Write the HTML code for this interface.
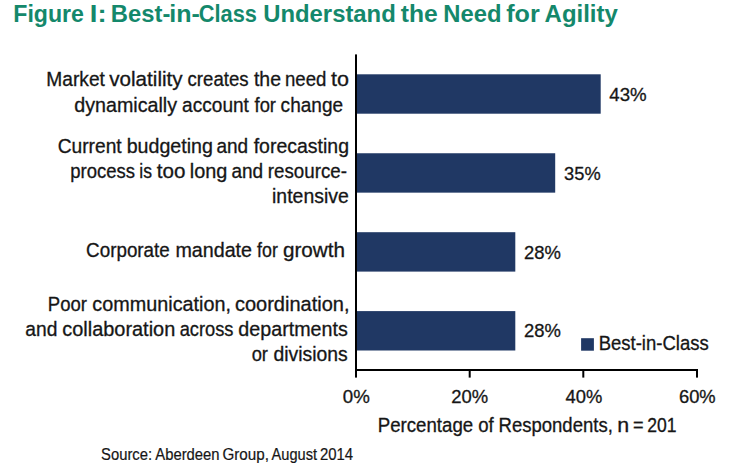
<!DOCTYPE html>
<html>
<head>
<meta charset="utf-8">
<title>Figure I: Best-in-Class Understand the Need for Agility</title>
<style>
html,body{margin:0;padding:0;background:#fff;}
body{width:733px;height:468px;overflow:hidden;font-family:"Liberation Sans",sans-serif;}
svg{display:block;}
svg text{font-family:"Liberation Sans",sans-serif;}
</style>
</head>
<body>
<svg width="733" height="468" viewBox="0 0 733 468">
<rect x="0" y="0" width="733" height="468" fill="#ffffff"/>
<rect x="356.0" y="74.3" width="244.7" height="39.4" fill="#203864"/>
<rect x="356.0" y="153.25" width="199.2" height="39.4" fill="#203864"/>
<rect x="356.0" y="232.2" width="159.3" height="39.4" fill="#203864"/>
<rect x="356.0" y="311.1" width="159.3" height="39.4" fill="#203864"/>
<rect x="355" y="54.4" width="2" height="316.6" fill="#000"/>
<rect x="355" y="369" width="343" height="2" fill="#000"/>
<rect x="355.0" y="370" width="2" height="7.6" fill="#000"/>
<rect x="468.7" y="370" width="2" height="7.6" fill="#000"/>
<rect x="582.3" y="370" width="2" height="7.6" fill="#000"/>
<rect x="696.0" y="370" width="2" height="7.6" fill="#000"/>
<rect x="581.1" y="338.2" width="12.8" height="12.5" fill="#203864"/>
<text id="tw0" x="13.25" y="21.6" font-size="23.6" font-weight="bold" fill="#14886B" textLength="70.69" lengthAdjust="spacingAndGlyphs">Figure</text>
<text id="tw1" x="89.89" y="21.6" font-size="23.6" font-weight="bold" fill="#14886B" textLength="16.72" lengthAdjust="spacingAndGlyphs">I:</text>
<text id="tw2" x="110.82" y="21.6" font-size="23.6" font-weight="bold" fill="#14886B" textLength="59.51" lengthAdjust="spacingAndGlyphs">Best-</text>
<text id="tw3" x="169.22" y="21.6" font-size="23.6" font-weight="bold" fill="#14886B" textLength="30.61" lengthAdjust="spacingAndGlyphs">in-</text>
<text id="tw4" x="198.74" y="21.6" font-size="23.6" font-weight="bold" fill="#14886B" textLength="58.26" lengthAdjust="spacingAndGlyphs">Class</text>
<text id="tw5" x="263.20" y="21.6" font-size="23.6" font-weight="bold" fill="#14886B" textLength="132.58" lengthAdjust="spacingAndGlyphs">Understand</text>
<text id="tw6" x="400.71" y="21.6" font-size="23.6" font-weight="bold" fill="#14886B" textLength="36.99" lengthAdjust="spacingAndGlyphs">the</text>
<text id="tw7" x="443.35" y="21.6" font-size="23.6" font-weight="bold" fill="#14886B" textLength="58.20" lengthAdjust="spacingAndGlyphs">Need</text>
<text id="tw8" x="506.22" y="21.6" font-size="23.6" font-weight="bold" fill="#14886B" textLength="33.51" lengthAdjust="spacingAndGlyphs">for</text>
<text id="tw9" x="544.58" y="21.6" font-size="23.6" font-weight="bold" fill="#14886B" textLength="73.25" lengthAdjust="spacingAndGlyphs">Agility</text>
<text id="l1aw0" x="46.34" y="86.0" font-size="19.3" font-weight="normal" fill="#161616" stroke="#161616" stroke-width="0.3" textLength="58.58" lengthAdjust="spacingAndGlyphs">Market</text>
<text id="l1aw1" x="109.27" y="86.0" font-size="19.3" font-weight="normal" fill="#161616" stroke="#161616" stroke-width="0.3" textLength="73.31" lengthAdjust="spacingAndGlyphs">volatility</text>
<text id="l1aw2" x="187.55" y="86.0" font-size="19.3" font-weight="normal" fill="#161616" stroke="#161616" stroke-width="0.3" textLength="61.03" lengthAdjust="spacingAndGlyphs">creates</text>
<text id="l1aw3" x="253.96" y="86.0" font-size="19.3" font-weight="normal" fill="#161616" stroke="#161616" stroke-width="0.3" textLength="27.07" lengthAdjust="spacingAndGlyphs">the</text>
<text id="l1aw4" x="285.00" y="86.0" font-size="19.3" font-weight="normal" fill="#161616" stroke="#161616" stroke-width="0.3" textLength="41.42" lengthAdjust="spacingAndGlyphs">need</text>
<text id="l1aw5" x="330.93" y="86.0" font-size="19.3" font-weight="normal" fill="#161616" stroke="#161616" stroke-width="0.3" textLength="17.98" lengthAdjust="spacingAndGlyphs">to</text>
<text id="l1bw0" x="74.23" y="112.0" font-size="19.3" font-weight="normal" fill="#161616" stroke="#161616" stroke-width="0.3" textLength="102.81" lengthAdjust="spacingAndGlyphs">dynamically</text>
<text id="l1bw1" x="182.11" y="112.0" font-size="19.3" font-weight="normal" fill="#161616" stroke="#161616" stroke-width="0.3" textLength="66.80" lengthAdjust="spacingAndGlyphs">account</text>
<text id="l1bw2" x="254.54" y="112.0" font-size="19.3" font-weight="normal" fill="#161616" stroke="#161616" stroke-width="0.3" textLength="21.47" lengthAdjust="spacingAndGlyphs">for</text>
<text id="l1bw3" x="280.61" y="112.0" font-size="19.3" font-weight="normal" fill="#161616" stroke="#161616" stroke-width="0.3" textLength="62.48" lengthAdjust="spacingAndGlyphs">change</text>
<text id="l2aw0" x="57.68" y="153.0" font-size="19.3" font-weight="normal" fill="#161616" stroke="#161616" stroke-width="0.3" textLength="63.97" lengthAdjust="spacingAndGlyphs">Current</text>
<text id="l2aw1" x="126.67" y="153.0" font-size="19.3" font-weight="normal" fill="#161616" stroke="#161616" stroke-width="0.3" textLength="86.26" lengthAdjust="spacingAndGlyphs">budgeting</text>
<text id="l2aw2" x="216.47" y="153.0" font-size="19.3" font-weight="normal" fill="#161616" stroke="#161616" stroke-width="0.3" textLength="31.71" lengthAdjust="spacingAndGlyphs">and</text>
<text id="l2aw3" x="253.71" y="153.0" font-size="19.3" font-weight="normal" fill="#161616" stroke="#161616" stroke-width="0.3" textLength="95.27" lengthAdjust="spacingAndGlyphs">forecasting</text>
<text id="l2bw0" x="70.29" y="178.0" font-size="19.3" font-weight="normal" fill="#161616" stroke="#161616" stroke-width="0.3" textLength="64.81" lengthAdjust="spacingAndGlyphs">process</text>
<text id="l2bw1" x="139.31" y="178.0" font-size="19.3" font-weight="normal" fill="#161616" stroke="#161616" stroke-width="0.3" textLength="12.72" lengthAdjust="spacingAndGlyphs">is</text>
<text id="l2bw2" x="156.84" y="178.0" font-size="19.3" font-weight="normal" fill="#161616" stroke="#161616" stroke-width="0.3" textLength="28.66" lengthAdjust="spacingAndGlyphs">too</text>
<text id="l2bw3" x="189.78" y="178.0" font-size="19.3" font-weight="normal" fill="#161616" stroke="#161616" stroke-width="0.3" textLength="37.60" lengthAdjust="spacingAndGlyphs">long</text>
<text id="l2bw4" x="231.47" y="178.0" font-size="19.3" font-weight="normal" fill="#161616" stroke="#161616" stroke-width="0.3" textLength="31.71" lengthAdjust="spacingAndGlyphs">and</text>
<text id="l2bw5" x="267.82" y="178.0" font-size="19.3" font-weight="normal" fill="#161616" stroke="#161616" stroke-width="0.3" textLength="79.12" lengthAdjust="spacingAndGlyphs">resource-</text>
<text id="l2cw0" x="272.06" y="203.0" font-size="19.3" font-weight="normal" fill="#161616" stroke="#161616" stroke-width="0.3" textLength="76.81" lengthAdjust="spacingAndGlyphs">intensive</text>
<text id="l3w0" x="86.11" y="257.0" font-size="19.3" font-weight="normal" fill="#161616" stroke="#161616" stroke-width="0.3" textLength="83.67" lengthAdjust="spacingAndGlyphs">Corporate</text>
<text id="l3w1" x="175.41" y="257.0" font-size="19.3" font-weight="normal" fill="#161616" stroke="#161616" stroke-width="0.3" textLength="76.64" lengthAdjust="spacingAndGlyphs">mandate</text>
<text id="l3w2" x="257.02" y="257.0" font-size="19.3" font-weight="normal" fill="#161616" stroke="#161616" stroke-width="0.3" textLength="20.81" lengthAdjust="spacingAndGlyphs">for</text>
<text id="l3w3" x="282.90" y="257.0" font-size="19.3" font-weight="normal" fill="#161616" stroke="#161616" stroke-width="0.3" textLength="62.12" lengthAdjust="spacingAndGlyphs">growth</text>
<text id="l4aw0" x="47.80" y="311.0" font-size="19.3" font-weight="normal" fill="#161616" stroke="#161616" stroke-width="0.3" textLength="39.17" lengthAdjust="spacingAndGlyphs">Poor</text>
<text id="l4aw1" x="92.33" y="311.0" font-size="19.3" font-weight="normal" fill="#161616" stroke="#161616" stroke-width="0.3" textLength="138.63" lengthAdjust="spacingAndGlyphs">communication,</text>
<text id="l4aw2" x="234.93" y="311.0" font-size="19.3" font-weight="normal" fill="#161616" stroke="#161616" stroke-width="0.3" textLength="114.61" lengthAdjust="spacingAndGlyphs">coordination,</text>
<text id="l4bw0" x="25.34" y="336.0" font-size="19.3" font-weight="normal" fill="#161616" stroke="#161616" stroke-width="0.3" textLength="32.08" lengthAdjust="spacingAndGlyphs">and</text>
<text id="l4bw1" x="62.23" y="336.0" font-size="19.3" font-weight="normal" fill="#161616" stroke="#161616" stroke-width="0.3" textLength="113.05" lengthAdjust="spacingAndGlyphs">collaboration</text>
<text id="l4bw2" x="179.63" y="336.0" font-size="19.3" font-weight="normal" fill="#161616" stroke="#161616" stroke-width="0.3" textLength="53.85" lengthAdjust="spacingAndGlyphs">across</text>
<text id="l4bw3" x="238.39" y="336.0" font-size="19.3" font-weight="normal" fill="#161616" stroke="#161616" stroke-width="0.3" textLength="109.43" lengthAdjust="spacingAndGlyphs">departments</text>
<text id="l4cw0" x="251.63" y="361.0" font-size="19.3" font-weight="normal" fill="#161616" stroke="#161616" stroke-width="0.3" textLength="16.30" lengthAdjust="spacingAndGlyphs">or</text>
<text id="l4cw1" x="273.49" y="361.0" font-size="19.3" font-weight="normal" fill="#161616" stroke="#161616" stroke-width="0.3" textLength="74.24" lengthAdjust="spacingAndGlyphs">divisions</text>
<text id="v1" x="609.32" y="101.4" font-size="18.1" font-weight="normal" fill="#161616" stroke="#161616" stroke-width="0.3" textLength="37.39" lengthAdjust="spacingAndGlyphs">43%</text>
<text id="v2" x="564.12" y="180.1" font-size="18.1" font-weight="normal" fill="#161616" stroke="#161616" stroke-width="0.3" textLength="36.57" lengthAdjust="spacingAndGlyphs">35%</text>
<text id="v3" x="524.12" y="258.8" font-size="18.1" font-weight="normal" fill="#161616" stroke="#161616" stroke-width="0.3" textLength="36.89" lengthAdjust="spacingAndGlyphs">28%</text>
<text id="v4" x="524.12" y="337.0" font-size="18.1" font-weight="normal" fill="#161616" stroke="#161616" stroke-width="0.3" textLength="36.89" lengthAdjust="spacingAndGlyphs">28%</text>
<text id="t0" x="342.85" y="403.0" font-size="18.1" font-weight="normal" fill="#161616" stroke="#161616" stroke-width="0.3" textLength="27.02" lengthAdjust="spacingAndGlyphs">0%</text>
<text id="t1" x="451.18" y="403.0" font-size="18.1" font-weight="normal" fill="#161616" stroke="#161616" stroke-width="0.3" textLength="36.94" lengthAdjust="spacingAndGlyphs">20%</text>
<text id="t2" x="565.59" y="403.0" font-size="18.1" font-weight="normal" fill="#161616" stroke="#161616" stroke-width="0.3" textLength="36.75" lengthAdjust="spacingAndGlyphs">40%</text>
<text id="t3" x="678.97" y="403.0" font-size="18.1" font-weight="normal" fill="#161616" stroke="#161616" stroke-width="0.3" textLength="36.72" lengthAdjust="spacingAndGlyphs">60%</text>
<text id="axw0" x="377.77" y="431.6" font-size="19.3" font-weight="normal" fill="#161616" stroke="#161616" stroke-width="0.3" textLength="95.41" lengthAdjust="spacingAndGlyphs">Percentage</text>
<text id="axw1" x="478.24" y="431.6" font-size="19.3" font-weight="normal" fill="#161616" stroke="#161616" stroke-width="0.3" textLength="15.51" lengthAdjust="spacingAndGlyphs">of</text>
<text id="axw2" x="498.51" y="431.6" font-size="19.3" font-weight="normal" fill="#161616" stroke="#161616" stroke-width="0.3" textLength="114.33" lengthAdjust="spacingAndGlyphs">Respondents,</text>
<text id="axw3" x="617.34" y="431.6" font-size="19.3" font-weight="normal" fill="#161616" stroke="#161616" stroke-width="0.3" textLength="11.90" lengthAdjust="spacingAndGlyphs">n</text>
<text id="axw4" x="633.10" y="431.6" font-size="19.3" font-weight="normal" fill="#161616" stroke="#161616" stroke-width="0.3" textLength="10.57" lengthAdjust="spacingAndGlyphs">=</text>
<text id="axw5" x="647.21" y="431.6" font-size="19.3" font-weight="normal" fill="#161616" stroke="#161616" stroke-width="0.3" textLength="29.31" lengthAdjust="spacingAndGlyphs">201</text>
<text id="lg" x="598.69" y="349.9" font-size="19.3" font-weight="normal" fill="#161616" stroke="#161616" stroke-width="0.3" textLength="110.02" lengthAdjust="spacingAndGlyphs">Best-in-Class</text>
<text id="srcw0" x="101.09" y="460.0" font-size="15.6" font-weight="normal" fill="#161616" stroke="#161616" stroke-width="0.2" textLength="50.96" lengthAdjust="spacingAndGlyphs">Source:</text>
<text id="srcw1" x="155.28" y="460.0" font-size="15.6" font-weight="normal" fill="#161616" stroke="#161616" stroke-width="0.2" textLength="64.27" lengthAdjust="spacingAndGlyphs">Aberdeen</text>
<text id="srcw2" x="222.44" y="460.0" font-size="15.6" font-weight="normal" fill="#161616" stroke="#161616" stroke-width="0.2" textLength="46.47" lengthAdjust="spacingAndGlyphs">Group,</text>
<text id="srcw3" x="271.58" y="460.0" font-size="15.6" font-weight="normal" fill="#161616" stroke="#161616" stroke-width="0.2" textLength="45.49" lengthAdjust="spacingAndGlyphs">August</text>
<text id="srcw4" x="319.98" y="460.0" font-size="15.6" font-weight="normal" fill="#161616" stroke="#161616" stroke-width="0.2" textLength="33.18" lengthAdjust="spacingAndGlyphs">2014</text>
</svg>
</body>
</html>
